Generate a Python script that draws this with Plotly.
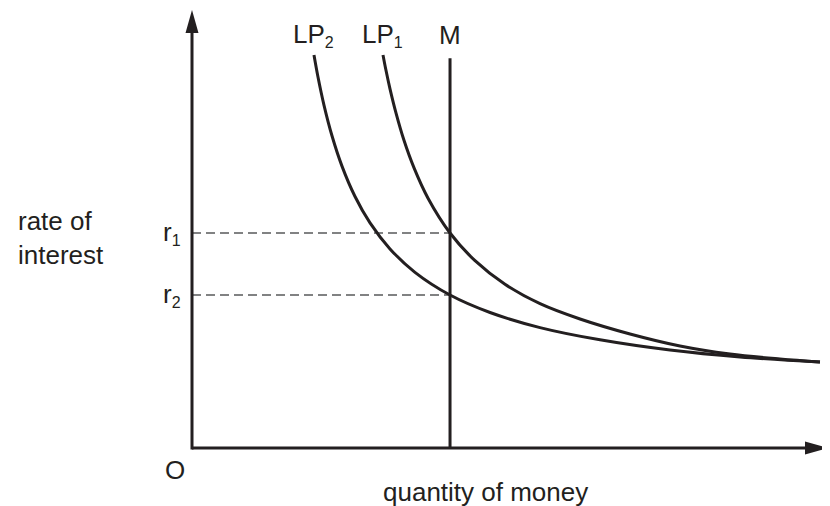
import plotly.graph_objects as go

# ---- data (economic units: quantity of money on x, rate of interest on y) ----
M_supply = 4.057
M_top = 8.9
r1 = 4.909
r2 = 3.493

lp1_x = [3.003, 3.050, 3.113, 3.208, 3.333, 3.491, 3.711, 4.057, 4.450, 4.921,
         5.472, 6.101, 6.887, 7.673, 8.459, 9.245, 9.874]
lp1_y = [8.973, 8.623, 8.201, 7.646, 7.025, 6.395, 5.703, 4.909, 4.276, 3.737,
         3.295, 2.945, 2.603, 2.329, 2.146, 2.032, 1.963]

lp2_x = [1.918, 1.981, 2.075, 2.201, 2.358, 2.563, 2.799, 3.113, 3.506, 4.057,
         4.686, 5.472, 6.415, 7.516, 8.616, 9.874]
lp2_y = [8.973, 8.470, 7.829, 7.128, 6.436, 5.742, 5.139, 4.546, 4.011, 3.493,
         3.094, 2.749, 2.470, 2.237, 2.078, 1.963]

x_max = 10
y_max = 10

INK = "#231f20"
DASH = "#58595b"
FONT = "Liberation Sans, Arial, Helvetica, sans-serif"

fig = go.Figure()

# dashed guides
for r in (r1, r2):
    fig.add_trace(go.Scatter(x=[0, M_supply], y=[r, r], mode="lines",
                             line=dict(color=DASH, width=1.5, dash="9px,5px"),
                             hoverinfo="skip", showlegend=False))

# money supply
fig.add_trace(go.Scatter(x=[M_supply, M_supply], y=[0, M_top], mode="lines",
                         line=dict(color=INK, width=3), showlegend=False))

# liquidity preference curves
fig.add_trace(go.Scatter(x=lp1_x, y=lp1_y, mode="lines",
                         line=dict(color=INK, width=3, shape="spline", smoothing=1.0),
                         showlegend=False))
fig.add_trace(go.Scatter(x=lp2_x, y=lp2_y, mode="lines",
                         line=dict(color=INK, width=3, shape="spline", smoothing=1.0),
                         showlegend=False))

# axes with arrowheads
fig.add_shape(type="line", xref="x", yref="y", x0=0, y0=0, x1=x_max - 0.2, y1=0,
              line=dict(color=INK, width=3))
fig.add_shape(type="line", xref="x", yref="y", x0=0, y0=-0.034, x1=0, y1=y_max - 0.3,
              line=dict(color=INK, width=3))
fig.add_shape(type="path", xref="x", yref="y", xsizemode="pixel", ysizemode="pixel",
              xanchor=0, yanchor=y_max, path="M0,0L-6.5,-23L6.5,-23Z",
              fillcolor=INK, line=dict(color=INK, width=0))
fig.add_shape(type="path", xref="x", yref="y", xsizemode="pixel", ysizemode="pixel",
              xanchor=x_max, yanchor=0, path="M0,0L-23,6.5L-23,-6.5Z",
              fillcolor=INK, line=dict(color=INK, width=0))

txt = dict(family=FONT, size=26, color=INK)


def sub(s):
    return '<sub><span style="font-size:16px">' + s + '</span></sub>'


def label(text, x, y, xanchor="center", yanchor="middle", align="center", **kw):
    fig.add_annotation(text=text, x=x, y=y, xref="x", yref="y", showarrow=False,
                       xanchor=xanchor, yanchor=yanchor, align=align, font=txt, **kw)


label("LP" + sub("2"), lp2_x[0], 9.43)
label("LP" + sub("1"), lp1_x[0], 9.43)
label("M", M_supply, 9.43)
label("r" + sub("1"), -0.31, r1)
label("r" + sub("2"), -0.31, r2)
label("rate of<br>interest", -2.77, 4.79, xanchor="left", align="left")
label("O", -0.26, -0.50)
label("quantity of money", 4.61, -1.01)

# pixel mapping (page body has an 8px margin): origin lands at (192, 448) on screen
px_per_x = 63.6
px_per_y = 43.8
ox, oy = 184, 440
axis_style = dict(showgrid=False, zeroline=False, showline=False,
                  showticklabels=False, ticks="", fixedrange=True)
fig.update_xaxes(range=[-ox / px_per_x, (830 - ox) / px_per_x], **axis_style)
fig.update_yaxes(range=[-(506 - oy) / px_per_y, oy / px_per_y], **axis_style)

fig.update_layout(width=830, height=506, margin=dict(l=0, r=0, t=0, b=0),
                  paper_bgcolor="white", plot_bgcolor="white", showlegend=False,
                  font=dict(family=FONT, size=26, color=INK))

fig.write_html("out.html", config={"displayModeBar": False})
